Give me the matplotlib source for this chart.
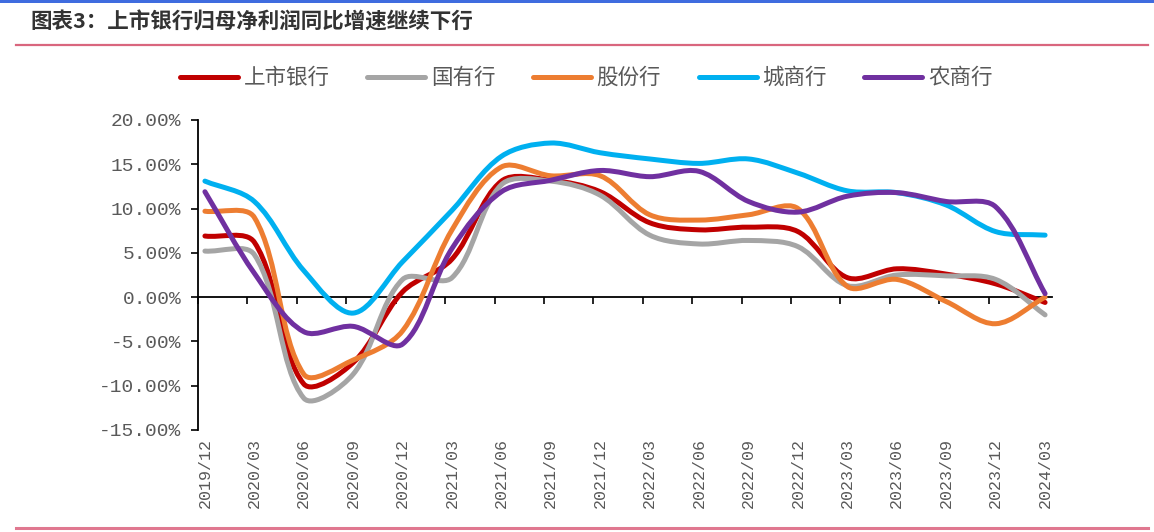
import matplotlib.pyplot as plt
from matplotlib.path import Path
from matplotlib.patches import PathPatch, Rectangle
from matplotlib.lines import Line2D
import numpy as np

quarters = ["2019/12", "2020/03", "2020/06", "2020/09", "2020/12", "2021/03",
            "2021/06", "2021/09", "2021/12", "2022/03", "2022/06", "2022/09",
            "2022/12", "2023/03", "2023/06", "2023/09", "2023/12", "2024/03"]

# 归母净利润同比增速 (%)
listed_banks = [6.9, 6.2, -9.8, -7.4, 0.6, 4.3, 13.1, 13.2, 11.9, 8.4, 7.6, 7.9, 7.4, 2.2, 3.2, 2.6, 1.5, -0.6]
state_banks = [5.2, 4.8, -11.4, -8.7, 2.0, 2.2, 12.7, 13.1, 11.5, 7.0, 6.0, 6.4, 5.7, 1.3, 2.5, 2.4, 2.0, -2.0]
joint_stock = [9.7, 9.0, -8.7, -7.1, -3.8, 7.6, 14.7, 13.7, 13.7, 9.3, 8.7, 9.3, 10.0, 1.2, 2.0, -0.5, -3.0, 0.0]
city_banks = [13.1, 10.8, 3.0, -1.8, 4.0, 9.8, 15.9, 17.4, 16.3, 15.6, 15.1, 15.6, 14.0, 12.0, 11.8, 10.4, 7.4, 7.0]
rural_banks = [11.9, 2.7, -3.9, -3.3, -5.3, 5.5, 11.9, 13.2, 14.3, 13.6, 14.2, 10.8, 9.6, 11.4, 11.8, 10.8, 10.2, 0.4]

series_names = ["上市银行", "国有行", "股份行", "城商行", "农商行"]
series_data = [listed_banks, state_banks, joint_stock, city_banks, rural_banks]
colors = ["#C00000", "#A5A5A5", "#ED7D31", "#00B0F0", "#7030A0"]

plt.rcParams["font.family"] = ["Noto Sans CJK SC", "DejaVu Sans"]
TXT = "#595959"


def smooth_path(ax, y_vals):
    # Excel-like smoothed line: bezier through each point, tangent split by
    # the on-screen length of the neighbouring segments
    pts = np.column_stack([np.arange(len(y_vals)), y_vals]).astype(float)
    pix = ax.transData.transform(pts)
    n = len(pts)
    c_in = pts.copy()
    c_out = pts.copy()
    for i in range(n):
        a = max(i - 1, 0)
        b = min(i + 1, n - 1)
        tan = pts[b] - pts[a]
        d_prev = np.hypot(*(pix[i] - pix[a]))
        d_next = np.hypot(*(pix[b] - pix[i]))
        tot = d_prev + d_next
        if tot == 0:
            continue
        c_in[i] = pts[i] - tan * d_prev / tot / 3
        c_out[i] = pts[i] + tan * d_next / tot / 3
    verts = [pts[0]]
    codes = [Path.MOVETO]
    for i in range(n - 1):
        verts += [c_out[i], c_in[i + 1], pts[i + 1]]
        codes += [Path.CURVE4] * 3
    return Path(verts, codes)


fig = plt.figure(figsize=(11.54, 5.32), dpi=100)
ax = fig.add_axes([0.17158, 0.19173, 0.74003, 0.58271])
ax.set_xlim(-0.14, len(quarters) - 1 + 0.14)
ax.set_ylim(-15, 20)

handles = []
for name, vals, col in zip(series_names, series_data, colors):
    ax.add_patch(PathPatch(smooth_path(ax, vals), fill=False, edgecolor=col, lw=3.6,
                           capstyle="round", joinstyle="round"))
    handles.append(Line2D([], [], color=col, lw=3.6, solid_capstyle="round", label=name))

yt = np.arange(-15, 21, 5)
ax.set_yticks(yt)
ax.set_yticklabels([f"{v:.2f}%" for v in yt], family="Liberation Mono", fontsize=14, color=TXT)
ax.tick_params(axis="y", length=5, width=1.2, pad=7, color="black")

ax.set_xticks(np.arange(len(quarters)))
ax.set_xticklabels(quarters, rotation=90, family="Liberation Mono", fontsize=12, color=TXT)
ax.tick_params(axis="x", length=0, pad=6)

for s in ["top", "right", "bottom"]:
    ax.spines[s].set_visible(False)
ax.spines["left"].set_linewidth(1.3)

# zero line with tick marks between categories
zero = ax.secondary_xaxis(15 / 35)
zero.set_xticks(np.arange(len(quarters)) - 0.14)
zero.set_xticklabels([])
zero.tick_params(length=5, width=1.2, direction="out")
for s in zero.spines.values():
    s.set_linewidth(1.3)

fig.legend(handles=handles, loc="center", bbox_to_anchor=(0.508, 0.853), ncol=5,
           frameon=False, fontsize=15.5, handlelength=2.7, handletextpad=0.25,
           columnspacing=1.75, labelcolor=TXT)

fig.text(0.026, 1 - 22 / 532, "图表3：上市银行归母净利润同比增速继续下行",
         fontsize=15.5, fontweight="bold", color="#333333", va="center")
fig.add_artist(Rectangle((0, 1 - 3 / 532), 1, 3 / 532, transform=fig.transFigure,
                         color="#3F6CDF", lw=0))
fig.add_artist(Line2D([0.0139, 0.9948], [1 - 45 / 532] * 2, transform=fig.transFigure,
                      color="#D9667E", lw=1.6))
fig.add_artist(Line2D([0.0139, 0.9948], [1 - 528 / 532] * 2, transform=fig.transFigure,
                      color="#E07890", lw=2.2))

fig.savefig("out.png", dpi=100)
